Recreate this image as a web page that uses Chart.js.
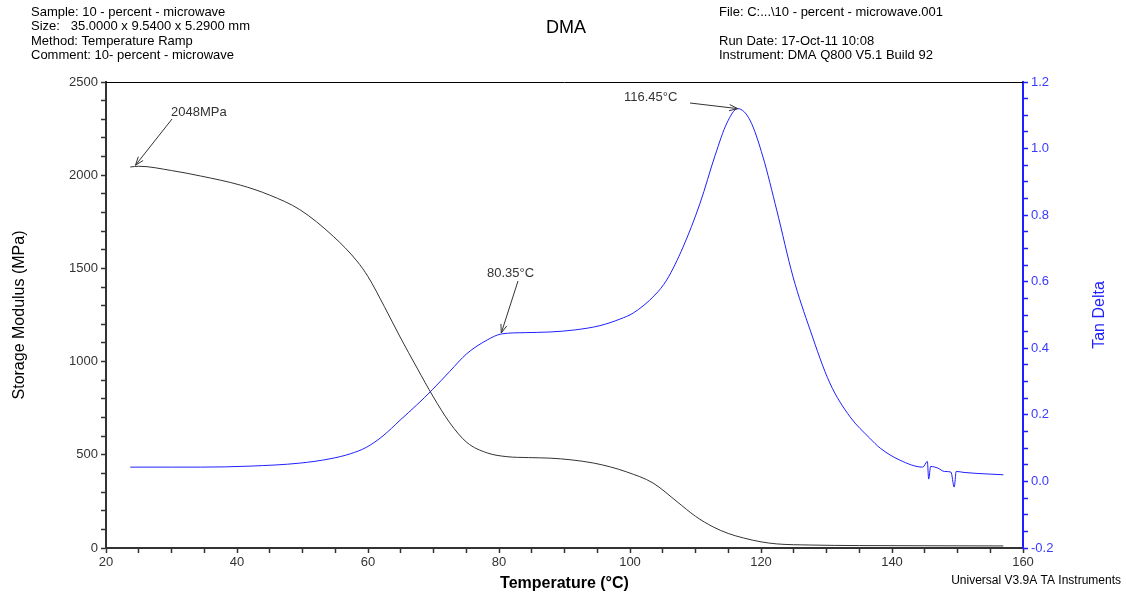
<!DOCTYPE html>
<html>
<head>
<meta charset="utf-8">
<script src="https://cdn.jsdelivr.net/npm/chart.js@4.4.1/dist/chart.umd.min.js"></script>
<style>
  html, body { margin: 0; padding: 0; background: #fff; }
  #wrap { width: 1126px; height: 597px; position: relative; }
</style>
</head>
<body>
<div id="wrap"><canvas id="myChart" width="1126" height="597"></canvas></div>
<script>
// temperature (°C) for storage modulus
var tempE = [23.7, 25, 30, 34.4, 40.5, 45, 49.6, 54.7, 58.3, 60, 62.5, 64.9, 67.5, 69.9, 72.5, 75.1, 78.2, 81.2, 84.5, 87.8, 91, 94.4, 97, 99.5, 103.5, 107.2, 110, 112.7, 115, 117.3, 120, 122.4, 127.5, 135, 145, 157]
// storage modulus (MPa)
var modulus = [2044, 2048, 2025, 1996, 1947, 1893, 1815, 1672, 1540, 1456, 1295, 1132, 965, 815, 671, 566, 510, 490, 485, 482, 473, 456, 435, 408, 349, 248, 170, 113, 78, 54, 33, 22, 16, 13, 12, 11]

// temperature (°C) for tan delta
var tempT = [23.7, 30, 34.4, 42, 49.6, 54.2, 57.3, 59.8, 62.3, 64.9, 67.4, 69.9, 72.5, 75.1, 78.2, 80.35, 84, 87.8, 91.5, 95.4, 98.5, 100.5, 103.8, 105.6, 108.1, 110.7, 113, 114.8, 116.45, 118.3, 120.3, 122.4, 124.9, 127.5, 130.5, 133.6, 136.6, 138.2, 141.2, 144.7, 145.4, 145.6, 145.9, 147, 148, 149, 149.5, 149.8, 151, 153, 157]
// tan delta
var tanDelta = [0.043, 0.043, 0.043, 0.046, 0.055, 0.068, 0.083, 0.103, 0.137, 0.184, 0.229, 0.277, 0.331, 0.384, 0.425, 0.443, 0.447, 0.449, 0.455, 0.468, 0.488, 0.506, 0.56, 0.605, 0.704, 0.836, 0.98, 1.077, 1.12, 1.086, 0.975, 0.815, 0.614, 0.455, 0.296, 0.194, 0.13, 0.1, 0.064, 0.043, 0.06, 0.007, 0.045, 0.04, 0.03, 0.028, -0.017, 0.03, 0.027, 0.024, 0.02]

// axis ranges and labels
var xRange = [20, 160]
var yLeftRange = [0, 2500]
var yRightRange = [-0.2, 1.2]

var headerLeft = ['Sample: 10 - percent - microwave', 'Size:   35.0000 x 9.5400 x 5.2900 mm', 'Method: Temperature Ramp', 'Comment: 10- percent - microwave']
var headerRight = ['File: C:...\\10 - percent - microwave.001', '', 'Run Date: 17-Oct-11 10:08', 'Instrument: DMA Q800 V5.1 Build 92']

var FONT = '"Liberation Sans", Arial, sans-serif'

function zip(xs, ys) {
  var out = []
  for (var i = 0; i < xs.length; i++) out.push({x: xs[i], y: ys[i]})
  return out
}

function arrow(ctx, x1, y1, x2, y2, color) {
  ctx.strokeStyle = color
  ctx.lineWidth = 1
  ctx.beginPath()
  ctx.moveTo(x1, y1)
  ctx.lineTo(x2, y2)
  var a = Math.atan2(y2 - y1, x2 - x1)
  var h = 9
  ctx.moveTo(x2, y2)
  ctx.lineTo(x2 - h * Math.cos(a - 0.35), y2 - h * Math.sin(a - 0.35))
  ctx.moveTo(x2, y2)
  ctx.lineTo(x2 - h * Math.cos(a + 0.35), y2 - h * Math.sin(a + 0.35))
  ctx.stroke()
}

var decor = {
  id: 'decor',
  afterDraw: function(chart) {
    var ctx = chart.ctx
    var a = chart.chartArea
    var x = chart.scales.x, yl = chart.scales.y, yr = chart.scales.y1
    ctx.save()
    // top frame line
    ctx.strokeStyle = '#000'
    ctx.lineWidth = 1
    ctx.beginPath()
    ctx.moveTo(a.left, a.top + 0.5)
    ctx.lineTo(a.right, a.top + 0.5)
    ctx.stroke()

    // header texts
    ctx.fillStyle = '#000'
    ctx.font = '13px ' + FONT
    ctx.textBaseline = 'middle'
    ctx.textAlign = 'left'
    for (var i = 0; i < headerLeft.length; i++) ctx.fillText(headerLeft[i], 31, 12 + i * 14.5)
    for (var j = 0; j < headerRight.length; j++) ctx.fillText(headerRight[j], 719, 12 + j * 14.5)
    ctx.font = '18px ' + FONT
    ctx.textAlign = 'center'
    ctx.fillText('DMA', 566, 28)
    ctx.font = '12px ' + FONT
    ctx.textAlign = 'right'
    ctx.fillText('Universal V3.9A TA Instruments', 1121, 581)

    // right axis title, reading bottom to top
    ctx.save()
    ctx.translate(1100, 315)
    ctx.rotate(-Math.PI / 2)
    ctx.textAlign = 'center'
    ctx.fillStyle = '#1f1fff'
    ctx.font = '16px ' + FONT
    ctx.fillText('Tan Delta', 0, 0)
    ctx.restore()

    // annotations
    ctx.fillStyle = '#333'
    ctx.font = '13px ' + FONT
    ctx.textAlign = 'left'
    var px = x.getPixelForValue(24.5), py = yl.getPixelForValue(2048)
    ctx.fillText('2048MPa', 171, 112)
    arrow(ctx, 172, 119, px, py - 1, '#333')

    px = x.getPixelForValue(80.35); py = yr.getPixelForValue(0.443)
    ctx.fillText('80.35°C', 487, 273)
    arrow(ctx, 518, 281, px, py - 1, '#333')

    px = x.getPixelForValue(116.45); py = yr.getPixelForValue(1.12)
    ctx.fillText('116.45°C', 624, 97)
    arrow(ctx, 690, 103, px, py, '#333')
    ctx.restore()
  }
}

var ctx = document.getElementById('myChart').getContext('2d')
var myChart = new Chart(ctx, {
  type: 'scatter',
  data: {
    datasets: [{
      label: 'Storage Modulus',
      data: zip(tempE, modulus),
      showLine: true,
      borderColor: '#333',
      borderWidth: 1,
      pointRadius: 0,
      cubicInterpolationMode: 'monotone',
      yAxisID: 'y'
    }, {
      label: 'Tan Delta',
      data: zip(tempT, tanDelta),
      showLine: true,
      borderColor: '#1f1fff',
      borderWidth: 1,
      pointRadius: 0,
      cubicInterpolationMode: 'monotone',
      yAxisID: 'y1'
    }]
  },
  plugins: [decor],
  options: {
    responsive: false,
    animation: false,
    layout: { padding: { top: 82, right: 0, left: 0, bottom: 0 } },
    plugins: { legend: { display: false }, tooltip: { enabled: false } },
    scales: {
      x: {
        type: 'linear',
        min: xRange[0], max: xRange[1],
        afterFit: function(s) { s.height = 49 },
        border: { color: '#333', width: 2 },
        grid: { drawOnChartArea: false, tickLength: 5, color: '#333', tickWidth: 1.5 },
        ticks: {
          stepSize: 5, autoSkip: false, maxRotation: 0, padding: 2,
          color: '#333', font: { family: FONT, size: 13 },
          callback: function(v) { return v % 20 === 0 ? v : '' }
        },
        title: { display: true, text: 'Temperature (°C)', color: '#000', font: { family: FONT, size: 16, weight: 'bold' }, padding: { top: 4, bottom: 4 } }
      },
      y: {
        position: 'left',
        min: yLeftRange[0], max: yLeftRange[1],
        afterFit: function(s) { s.width = 106 },
        border: { color: '#333', width: 2 },
        grid: { drawOnChartArea: false, tickLength: 5, color: '#333', tickWidth: 1.5 },
        ticks: {
          stepSize: 100, autoSkip: false, padding: 3,
          color: '#333', font: { family: FONT, size: 13 },
          callback: function(v) { return v % 500 === 0 ? v : '' }
        },
        title: { display: true, text: 'Storage Modulus (MPa)', color: '#000', font: { family: FONT, size: 16 }, padding: { top: 10, bottom: 0 } }
      },
      y1: {
        position: 'right',
        min: yRightRange[0], max: yRightRange[1],
        afterFit: function(s) { s.width = 103 },
        border: { color: '#1f1fff', width: 2 },
        grid: { drawOnChartArea: false, tickLength: 5, color: '#1f1fff', tickWidth: 1.5 },
        ticks: {
          stepSize: 0.05, autoSkip: false, padding: 3,
          color: '#3a3aff', font: { family: FONT, size: 13 },
          callback: function(v) { var k = Math.round(v * 100); return k % 20 === 0 ? (k / 100).toFixed(1) : '' }
        }
      }
    }
  }
})
</script>
</body>
</html>
